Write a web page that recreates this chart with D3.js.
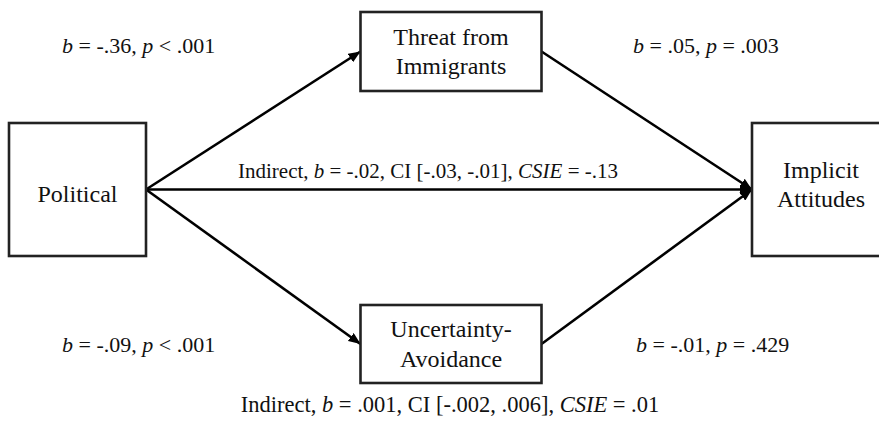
<!DOCTYPE html>
<html>
<head>
<meta charset="utf-8">
<script src="https://cdn.jsdelivr.net/npm/d3@7"></script>
<style>
  html, body { margin: 0; padding: 0; background: #fff; }
  svg { display: block; }
</style>
</head>
<body>
<svg id="chart" width="879" height="438"></svg>
<script>
// ---- data ----
const nodeIds    = ["political", "threat", "uncertainty", "implicit"];
const nodeLabels = [["Political"], ["Threat from", "Immigrants"], ["Uncertainty-", "Avoidance"], ["Implicit", "Attitudes"]];
const nodeCols   = [0, 1, 1, 2];          // column in the path model
const nodeRows   = [1, 0, 2, 1];          // row in the path model
const pathFrom   = ["political", "political", "political", "threat", "uncertainty"];
const pathTo     = ["threat", "uncertainty", "implicit", "implicit", "implicit"];
// coefficient labels: [segments], segment = [text, italic]
const coefA1 = [["b", 1], [" = -.36, ", 0], ["p", 1], [" < .001", 0]];
const coefB1 = [["b", 1], [" = .05, ", 0], ["p", 1], [" = .003", 0]];
const coefA2 = [["b", 1], [" = -.09, ", 0], ["p", 1], [" < .001", 0]];
const coefB2 = [["b", 1], [" = -.01, ", 0], ["p", 1], [" = .429", 0]];
const indirect1 = [["Indirect, ", 0], ["b", 1], [" = -.02, CI [-.03, -.01], ", 0], ["CSIE", 1], [" = -.13", 0]];
const indirect2 = [["Indirect, ", 0], ["b", 1], [" = .001, CI [-.002, .006], ", 0], ["CSIE", 1], [" = .01", 0]];

const FONT = "\"Liberation Serif\"";

// ---- layout via scales ----
const svg = d3.select("#chart");
const colCenter = d3.scaleOrdinal().domain([0, 1, 2]).range([77.5, 451, 821]);
const rowCenter = d3.scaleOrdinal().domain([0, 1, 2]).range([51.5, 189.5, 344]);
const colWidth  = d3.scaleOrdinal().domain([0, 1, 2]).range([137, 181, 138]);
const rowHeight = d3.scaleOrdinal().domain([0, 1, 2]).range([79, 133, 78]);
const textShift = d3.scaleOrdinal().domain(nodeIds).range([12, 8, 8, 3]);

const nodes = nodeIds.map((id, i) => {
  const cx = colCenter(nodeCols[i]), cy = rowCenter(nodeRows[i]);
  const w = colWidth(nodeCols[i]), h = rowHeight(nodeRows[i]);
  return { id, lines: nodeLabels[i], cx, cy, w, h, x0: cx - w / 2, x1: cx + w / 2 };
});
const byId = Object.fromEntries(nodes.map(n => [n.id, n]));

// arrow marker
svg.append("defs").append("marker")
  .attr("id", "arrow")
  .attr("viewBox", "0 0 12 10")
  .attr("refX", 12).attr("refY", 5)
  .attr("markerWidth", 12).attr("markerHeight", 10)
  .attr("markerUnits", "userSpaceOnUse")
  .attr("orient", "auto")
  .append("path").attr("d", "M0,0 L12,5 L0,10 Z").attr("fill", "#000");

// paths
const links = pathFrom.map((f, i) => {
  const a = byId[f], b = byId[pathTo[i]];
  return { x1: a.x1, y1: a.cy, x2: b.x0, y2: b.cy };
});
svg.append("g").selectAll("line").data(links).join("line")
  .attr("x1", d => d.x1).attr("y1", d => d.y1)
  .attr("x2", d => d.x2).attr("y2", d => d.y2)
  .attr("stroke", "#000").attr("stroke-width", 2.6)
  .attr("marker-end", "url(#arrow)");

// boxes
const g = svg.append("g").selectAll("g").data(nodes).join("g");
g.append("rect")
  .attr("x", d => d.x0).attr("y", d => d.cy - d.h / 2)
  .attr("width", d => d.w).attr("height", d => d.h)
  .attr("fill", "#fff").attr("stroke", "#222").attr("stroke-width", 2.6);
g.each(function(d) {
  const n = d.lines.length, lh = 29.5;
  d3.select(this).selectAll("text").data(d.lines).join("text")
    .attr("x", d.cx)
    .attr("y", (t, j) => d.cy + (j - (n - 1) / 2) * lh + textShift(d.id))
    .attr("text-anchor", "middle")
    .style("font-family", FONT)
    .style("font-size", "24px")
    .style("fill", "#111")
    .text(t => t);
});

// coefficient labels
function rich(segs, x, y, anchor, size) {
  const t = svg.append("text").attr("x", x).attr("y", y)
    .attr("text-anchor", anchor)
    .style("font-size", size + "px")
    .style("font-family", FONT).style("fill", "#111");
  segs.forEach(([s, it]) => t.append("tspan").style("font-style", it ? "italic" : "normal").text(s));
  return t;
}
rich(coefA1, 62, 53, "start", 22);
rich(coefB1, 633, 53, "start", 22);
rich(coefA2, 62, 352, "start", 22);
rich(coefB2, 636, 352, "start", 22);
rich(indirect1, 428, 178, "middle", 21);
rich(indirect2, 450, 412, "middle", 22.5);
</script>
</body>
</html>
